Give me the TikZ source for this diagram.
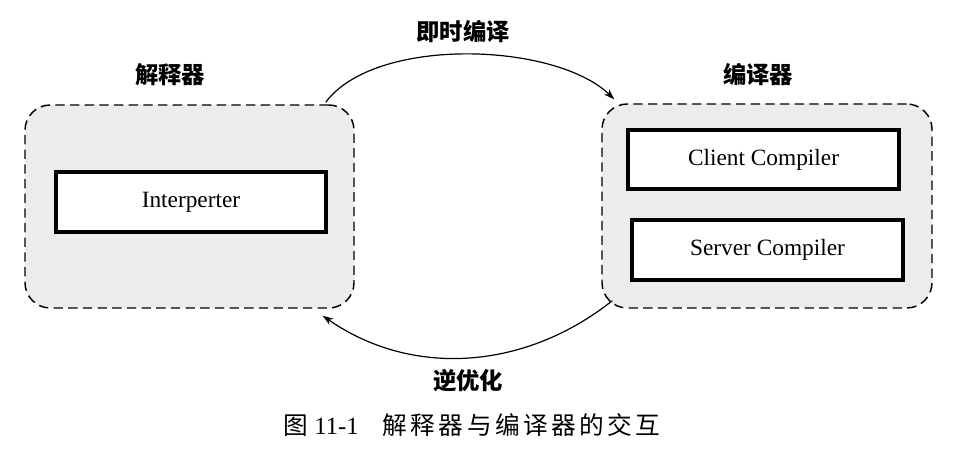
\documentclass[tikz,border=0pt]{standalone}
\usepackage{fontspec}
\setmainfont{Liberation Serif}
\newfontfamily\cjk{Noto Sans CJK SC}
\usetikzlibrary{calc,arrows.meta}

\tikzset{
  group/.style={draw, dash pattern=on 7pt off 4pt, line width=1.1pt,
    rounded corners=19pt, fill=gray!15, inner sep=0pt},
  unit/.style={draw, line width=2.3pt, fill=white, inner sep=0pt,
    font=\fontsize{17.5}{20}\selectfont},
  heading/.style={font=\cjk\bfseries\fontsize{17.5}{20}\selectfont},
  flow/.style={-{Stealth[length=8pt,width=5.5pt]}, line width=0.9pt},
}

\begin{document}
\begin{tikzpicture}[x=0.75pt,y=-0.75pt]
\useasboundingbox (0,0) rectangle (974,466);

% interpreter side
\node[group, minimum width=246.75pt, minimum height=152.25pt] (lc) at (189.5,206.5) {};
\node[unit, minimum width=202.5pt, minimum height=45pt] (interp) at (191,202) {Interperter};
\node[heading] (lt) at (170,75) {解释器};

% compiler side
\node[group, minimum width=247.5pt, minimum height=153pt] (rc) at (767,206) {};
\node[unit, minimum width=203.25pt, minimum height=44.25pt] (client) at (763.5,159.5) {Client Compiler};
\node[unit, minimum width=203.25pt, minimum height=45pt] (server) at (767.5,250) {Server Compiler};
\node[heading] (rt) at (758,75) {编译器};

% transitions between the two
\draw[flow] ($(lc.north east)+(-29,-2)$) .. controls (375,36) and (555,42) .. ($(rc.north west)+(13,-4)$);
\node[heading] (jit) at (463,32) {即时编译};

\draw[flow] ($(rc.south west)+(11,-8)$) .. controls (525,370) and (412,378) .. ($(lc.south east)+(-32,7)$);
\node[heading] (deopt) at (468,381) {逆优化};

% caption
\node[font=\fontsize{18.5}{22}\selectfont] (cap) at (472,425)
  {{\cjk 图}\ 11-1\hspace{18pt}{\cjk\addfontfeature{LetterSpace=14}解释器与编译器的交互}};
\end{tikzpicture}
\end{document}
